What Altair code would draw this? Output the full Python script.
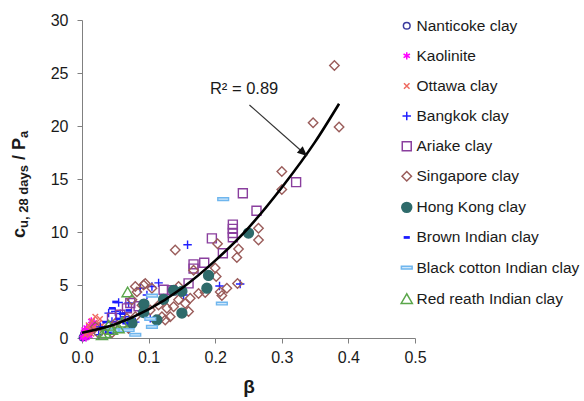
import altair as alt
import pandas as pd

# ---------------- data ----------------
series_names = ["Nanticoke clay", "Kaolinite", "Ottawa clay", "Bangkok clay", "Ariake clay",
                "Singapore clay", "Hong Kong clay", "Brown Indian clay",
                "Black cotton Indian clay", "Red reath Indian clay"]

nanticoke_beta = [0.001, 0.003, 0.004, 0.006, 0.008, 0.010, 0.002]
nanticoke_cu = [0.05, 0.35, 0.2, 0.15, 0.3, 0.45, 0.1]

kaolinite_beta = [0.002, 0.004, 0.006, 0.008, 0.010, 0.012, 0.015, 0.018, 0.005, 0.009,
                  0.003, 0.013, 0.007, 0.016, 0.020, 0.001, 0.011, 0.006, 0.014, 0.004]
kaolinite_cu = [0.1, 0.3, 0.5, 0.7, 0.9, 1.1, 1.3, 1.5, 0.2, 0.4,
                0.6, 0.6, 1.0, 0.9, 1.2, 0.0, 0.2, 0.0, 1.6, 0.8]

ottawa_beta = [0.010, 0.015, 0.020, 0.025, 0.012, 0.018, 0.008, 0.022, 0.027, 0.005, 0.030, 0.014]
ottawa_cu = [1.2, 1.6, 2.0, 1.4, 0.8, 1.0, 0.5, 0.9, 1.8, 0.3, 1.2, 0.4]

bangkok_beta = [0.1585, 0.115, 0.0875, 0.2065, 0.2375, 0.1525, 0.0975, 0.1025, 0.055, 0.050,
                0.045, 0.070, 0.035, 0.025, 0.0575, 0.040, 0.090, 0.105, 0.0275, 0.0425, 0.065, 0.080]
bangkok_cu = [8.8, 5.2, 4.7, 4.9, 5.1, 4.05, 4.05, 1.85, 3.35, 2.5,
              1.55, 3.3, 0.75, 0.3, 2.3, 2.35, 2.5, 4.85, 1.05, 0.45, 2.0, 1.5]

ariake_beta = [0.3215, 0.2415, 0.2620, 0.2265, 0.2265, 0.2265, 0.2265, 0.2115, 0.1950, 0.1835,
               0.1675, 0.1675, 0.1600, 0.1350, 0.1225, 0.0675, 0.0575, 0.0725, 0.0450, 0.0850]
ariake_cu = [14.7, 13.65, 12.0, 10.7, 10.3, 9.9, 9.5, 8.0, 9.4, 7.1,
             6.95, 6.55, 5.15, 4.5, 4.55, 2.8, 2.2, 3.3, 1.9, 3.0]

singapore_beta = [0.379, 0.386, 0.347, 0.300, 0.300, 0.265, 0.265, 0.235, 0.2325, 0.140,
                  0.2035, 0.200, 0.2015, 0.2175, 0.2335, 0.2075, 0.175, 0.1625, 0.155, 0.1375,
                  0.1275, 0.120, 0.0925, 0.105, 0.0825, 0.115, 0.1025, 0.1325, 0.125, 0.1675,
                  0.145, 0.080, 0.095, 0.075, 0.090, 0.0675, 0.050, 0.035, 0.025, 0.020,
                  0.080, 0.110, 0.060, 0.070, 0.045, 0.185, 0.145, 0.160, 0.210]
singapore_cu = [25.7, 19.9, 20.3, 15.7, 14.0, 10.35, 9.25, 8.4, 7.6, 8.3,
                8.9, 6.6, 5.8, 4.7, 5.15, 4.35, 4.2, 3.75, 3.25, 2.95,
                2.8, 2.0, 5.0, 4.7, 4.35, 3.1, 2.65, 2.0, 1.7, 6.4,
                4.85, 4.85, 5.15, 3.6, 3.1, 1.85, 1.4, 0.75, 0.45, 1.05,
                2.0, 1.7, 1.2, 0.9, 0.5, 4.3, 3.6, 2.5, 4.0]

hongkong_beta = [0.250, 0.190, 0.1875, 0.150, 0.1375, 0.1225, 0.150, 0.1125, 0.093, 0.0925, 0.075]
hongkong_cu = [9.9, 5.9, 4.7, 4.4, 4.5, 3.65, 2.35, 1.7, 3.2, 2.4, 1.4]

brown_beta = [0.050, 0.045, 0.060, 0.035, 0.030, 0.055, 0.070, 0.065, 0.040]
brown_cu = [3.4, 2.8, 2.3, 1.5, 1.0, 1.8, 2.6, 1.4, 0.6]

blackcotton_beta = [0.212, 0.210, 0.105, 0.1025, 0.0525, 0.0625, 0.080, 0.105, 0.070, 0.0475]
blackcotton_cu = [13.1, 3.25, 4.0, 1.8, 0.75, 0.75, 0.3, 1.05, 0.75, 0.75]

redreath_beta = [0.0685, 0.055, 0.035, 0.045, 0.040, 0.060, 0.030]
redreath_cu = [4.35, 0.95, 0.5, 0.8, 1.2, 1.5, 0.3]

# trend line
trend_beta = [0.0, 0.05, 0.10, 0.15, 0.20, 0.25, 0.30, 0.35, 0.386]
trend_cu = [0.5, 1.3, 2.7, 4.7, 7.3, 10.4, 14.2, 18.5, 22.1]

# annotation
r2_label = "R² = 0.89"
r2_pos = [0.2434, 23.5]
arrow_from = [0.2514, 21.98]
arrow_to = [0.338, 17.17]

x_ticks = [0.0, 0.1, 0.2, 0.3, 0.4, 0.5]
y_ticks = [0, 5, 10, 15, 20, 25, 30]

# ---------------- styles ----------------
stroke_colors = ["#3b3b9e", "#ff00ff", "#ef6a60", "#2020ff", "#8a3f9e",
                 "#9a5c5a", "#2e6b6b", "#1a1aff", "#6fb6ee", "#5aa64a"]
fill_colors = ["transparent", "transparent", "transparent", "transparent", "transparent",
               "transparent", "#2e6b6b", "#1a1aff", "#cfe7fb", "transparent"]
shapes = ["circle",
          "M0,-1L0,1M-0.87,-0.5L0.87,0.5M-0.87,0.5L0.87,-0.5",
          "M-0.7,-0.7L0.7,0.7M-0.7,0.7L0.7,-0.7",
          "M-1,0L1,0M0,-1L0,1",
          "square",
          "diamond",
          "circle",
          "M-0.45,-0.12L0.45,-0.12L0.45,0.12L-0.45,0.12Z",
          "M-1,-0.25L1,-0.25L1,0.25L-1,0.25Z",
          "triangle-up"]
sizes = [45, 125, 110, 140, 115, 85, 70, 100, 110, 110]

FONT = "Liberation Sans"

series_data = [
    (nanticoke_beta, nanticoke_cu), (kaolinite_beta, kaolinite_cu), (ottawa_beta, ottawa_cu),
    (bangkok_beta, bangkok_cu), (ariake_beta, ariake_cu), (singapore_beta, singapore_cu),
    (hongkong_beta, hongkong_cu), (brown_beta, brown_cu), (blackcotton_beta, blackcotton_cu),
    (redreath_beta, redreath_cu),
]
rows = []
for name, (bs, cs) in zip(series_names, series_data):
    for b, c in zip(bs, cs):
        rows.append({"series": name, "beta": b, "cu": c})
df = pd.DataFrame(rows)
trend_df = pd.DataFrame({"beta": trend_beta, "cu": trend_cu})

x_scale = alt.Scale(domain=[0, 0.5], nice=False)
y_scale = alt.Scale(domain=[0, 30], nice=False)

x_axis = alt.Axis(values=x_ticks, format=".1f", title="β", grid=False, labelFlush=False,
                  titleFontSize=19, titleFontWeight="bold", titleFont=FONT, titleColor="#1a1a1a",
                  titlePadding=12, labelPadding=6)
y_axis = alt.Axis(values=y_ticks, title=None, grid=False, labelPadding=9, labelFlush=False)

legend = alt.Legend(orient="none", legendX=317, legendY=-2, title=None,
                    labelFontSize=15.5, labelFont=FONT, labelColor="#1a1a1a",
                    rowPadding=13.1, labelOffset=2, symbolStrokeWidth=1.5,
                    padding=0, labelLimit=400)

points = alt.Chart(df).mark_point(filled=False, strokeWidth=1.4, opacity=1).encode(
    x=alt.X("beta:Q", scale=x_scale, axis=x_axis),
    y=alt.Y("cu:Q", scale=y_scale, axis=y_axis),
    stroke=alt.Stroke("series:N", scale=alt.Scale(domain=series_names, range=stroke_colors), legend=legend),
    fill=alt.Fill("series:N", scale=alt.Scale(domain=series_names, range=fill_colors), legend=legend),
    shape=alt.Shape("series:N", scale=alt.Scale(domain=series_names, range=shapes), legend=legend),
    size=alt.Size("series:N", scale=alt.Scale(domain=series_names, range=sizes), legend=legend),
)

trend = alt.Chart(trend_df).mark_line(color="#000000", strokeWidth=2.6, interpolate="monotone").encode(
    x=alt.X("beta:Q", scale=x_scale),
    y=alt.Y("cu:Q", scale=y_scale),
)

ann_df = pd.DataFrame({"x": [arrow_from[0]], "y": [arrow_from[1]],
                       "x2": [arrow_to[0]], "y2": [arrow_to[1]]})
arrow_line = alt.Chart(ann_df).mark_rule(color="#333333", strokeWidth=1.2).encode(
    x=alt.X("x:Q", scale=x_scale), y=alt.Y("y:Q", scale=y_scale), x2="x2:Q", y2="y2:Q")
head_df = pd.DataFrame({"x": [arrow_to[0]], "y": [arrow_to[1]]})
arrow_head = alt.Chart(head_df).mark_point(
    shape="M0,0L-1,-0.45L-1,0.45Z", filled=True, color="#111111", size=380, angle=41.5, opacity=1
).encode(x=alt.X("x:Q", scale=x_scale), y=alt.Y("y:Q", scale=y_scale))

r2_df = pd.DataFrame({"x": [r2_pos[0]], "y": [r2_pos[1]], "t": [r2_label]})
r2_text = alt.Chart(r2_df).mark_text(font=FONT, fontSize=16.5, color="#1a1a1a",
                                     align="center", baseline="middle").encode(
    x=alt.X("x:Q", scale=x_scale), y=alt.Y("y:Q", scale=y_scale), text="t:N")

# y-axis title with subscripts: c_{u, 28 days} / P_a (rotated)
def ytxt(s, x, y, size):
    return alt.Chart(pd.DataFrame({"t": [s]})).mark_text(
        font=FONT, fontSize=size, fontWeight="bold", color="#1a1a1a",
        angle=270, align="left", baseline="alphabetic").encode(
        x=alt.value(x), y=alt.value(y), text="t:N")

ytitle = [
    ytxt("c", -57, 218, 18),
    ytxt("u, 28 days", -54, 208, 13),
    ytxt("/", -57, 140, 18),
    ytxt("P", -57, 130, 18),
    ytxt("a", -54, 118, 13),
]

chart = alt.layer(points, trend, arrow_line, arrow_head, r2_text, *ytitle).properties(
    width=333, height=318,
    autosize=alt.AutoSizeParams(type="none"),
    padding={"left": 82, "top": 20, "right": 169, "bottom": 63},
).configure_view(stroke=None).configure_axis(
    domainColor="#808080", tickColor="#808080", tickSize=5,
    labelFont=FONT, labelFontSize=16, labelColor="#1a1a1a",
)

chart.save("out.html", embed_options={"renderer": "svg", "actions": False})
